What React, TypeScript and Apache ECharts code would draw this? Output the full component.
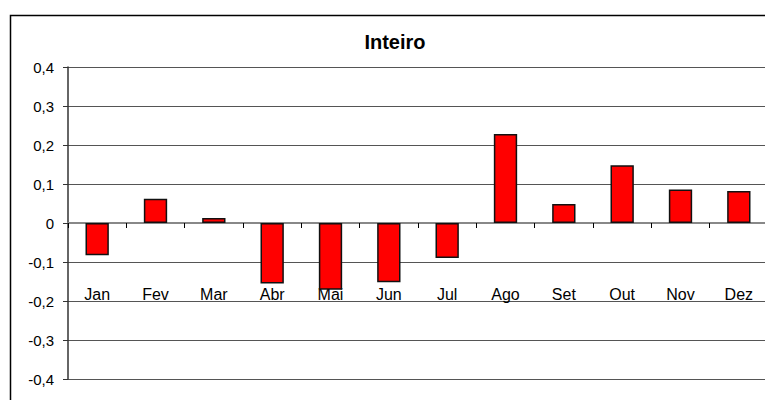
import React, { useEffect, useRef } from "react";
import * as echarts from "echarts";

const categories = ["Jan", "Fev", "Mar", "Abr", "Mai", "Jun", "Jul", "Ago", "Set", "Out", "Nov", "Dez"];
const values = [-0.083, 0.062, 0.013, -0.155, -0.171, -0.152, -0.09, 0.228, 0.049, 0.148, 0.086, 0.082];
const titleText = "Inteiro";
const yMin = -0.4;
const yMax = 0.4;
const yStep = 0.1;

export default function App() {
  const ref = useRef<HTMLDivElement>(null);
  useEffect(() => {
    if (!ref.current) return;
    const chart = echarts.init(ref.current, null, { renderer: "svg" });
    chart.setOption({
      animation: false,
      backgroundColor: "#ffffff",
      textStyle: { fontFamily: "Liberation Sans, Arial, sans-serif" },
      graphic: [
        {
          type: "rect",
          shape: { x: 10.5, y: 15.5, width: 800, height: 420 },
          style: { fill: "none", stroke: "#000000", lineWidth: 1.5 },
          silent: true,
        },
        {
          type: "text",
          x: 395,
          y: 42,
          style: {
            text: titleText,
            font: "bold 20px 'Liberation Sans', Arial, sans-serif",
            fill: "#000000",
            textAlign: "center",
            textVerticalAlign: "middle",
          },
        },
      ],
      grid: { left: 68, top: 67, width: 700, height: 312, containLabel: false, outerBoundsMode: "none" },
      xAxis: [
        {
          type: "category",
          data: categories,
          axisLine: { onZero: true, lineStyle: { color: "#888888", width: 2 } },
          axisTick: { show: true, length: 5, lineStyle: { color: "#000000", width: 1 } },
          axisLabel: { show: false },
          splitLine: { show: false },
        },
        {
          type: "category",
          data: categories,
          position: "bottom",
          offset: -100,
          axisLine: { show: false, onZero: false },
          axisTick: { show: false },
          axisLabel: { margin: 7, fontSize: 16, color: "#000000", fontFamily: "Liberation Sans, Arial, sans-serif" },
          splitLine: { show: false },
        },
      ],
      yAxis: {
        type: "value",
        min: yMin,
        max: yMax,
        interval: yStep,
        axisLine: { show: true, lineStyle: { color: "#333333", width: 1.5 } },
        axisTick: { show: true, length: 5, lineStyle: { color: "#333333" } },
        axisLabel: {
          margin: 14,
          fontSize: 15,
          color: "#000000",
          fontFamily: "Liberation Sans, Arial, sans-serif",
          formatter: (v: number) => {
            const r = Math.round(v * 10) / 10;
            if (r === 0) return "0";
            return r.toFixed(1).replace(".", ",");
          },
        },
        splitLine: { show: true, lineStyle: { color: "#555555", width: 1.2 } },
      },
      series: [
        {
          type: "bar",
          data: values,
          xAxisIndex: 0,
          barCategoryGap: "60%",
          itemStyle: { color: "#ff0000", borderColor: "#111111", borderWidth: 1.5 },
        },
      ],
    });
    return () => chart.dispose();
  }, []);
  return <div ref={ref} style={{ position: "fixed", left: 0, top: 0, width: 765, height: 400 }} />;
}
